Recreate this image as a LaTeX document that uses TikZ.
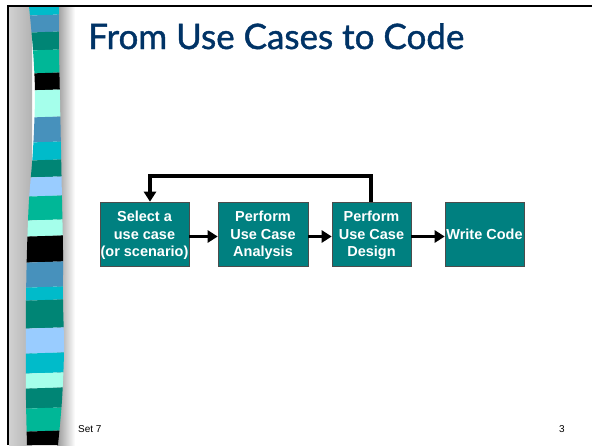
\documentclass[tikz,border=0pt]{standalone}
\usepackage{fontspec}
\setmainfont{Liberation Sans}
\newfontfamily\titlefont[FakeBold=1.2]{Lato}
\usetikzlibrary{arrows.meta,calc}

% ribbon palette
\definecolor{rcyan}{HTML}{00BBCA}
\definecolor{rsteel}{HTML}{4791BC}
\definecolor{rdark}{HTML}{008575}
\definecolor{rgreen}{HTML}{00B797}
\definecolor{raqua}{HTML}{A5FFEB}
\definecolor{rlight}{HTML}{99CCFF}
\definecolor{boxteal}{HTML}{008080}
\definecolor{titleblue}{HTML}{003366}

\tikzset{
  stepbox/.style={draw=black!70, line width=0.6pt, fill=boxteal,
    text=white, font=\fontsize{14.5}{17.7}\selectfont\bfseries,
    align=center, inner sep=0pt, minimum height=64pt, text depth=0pt},
  flow/.style={line width=3.6pt, -{Triangle[length=10pt,width=12pt]}},
  loopline/.style={line width=3.6pt, line join=miter,
    -{Triangle[length=10pt,width=12pt]}},
  footer/.style={font=\fontsize{10}{12}\selectfont, text=black, inner sep=0pt}
}

\begin{document}
\begin{tikzpicture}[x=1pt,y=-1pt]
\useasboundingbox (0,0) rectangle (592,445);
\fill[white] (0,0) rectangle (592,445);

% shading on both sides of the ribbon
\shade[left color=black!18, middle color=black!4, right color=black!30]
  (9,6) rectangle (32,445);
\shade[left color=black!40, right color=white] (57,6) rectangle (75,445);

% the ribbon: bands clipped to a wavy outline
\begin{scope}
\clip plot[smooth] coordinates {(29,6) (33,50) (35,95) (33,150) (29,200)
      (27,250) (26,300) (26,350) (26,400) (27,445)}
  -- plot[smooth] coordinates {(58,445) (62,400) (64,350) (63,300)
      (63,250) (62,200) (61,150) (60,100) (59,50) (59,6)} -- cycle;
\foreach \ya/\yb/\c in {6/15/rcyan, 15/32/rsteel, 32/50/rdark, 50/73/rgreen,
    73/90/black, 90/117/raqua, 117/142/rsteel, 142/160/rcyan,
    160/177/rdark, 177/196/rlight, 196/220/rgreen, 220/236/raqua,
    236/262/black, 262/287/rsteel, 287/300/rcyan, 300/328/rdark,
    328/353/rlight, 353/373/rcyan, 373/388/raqua, 388/408/rdark,
    408/431/rgreen, 431/446/black}
  \fill[\c] (20,\ya+0.8) -- (70,\ya-0.8) -- (70,\yb-0.8) -- (20,\yb+0.8) -- cycle;
\end{scope}

% slide frame
\draw[line width=2pt] (7,6) -- (592,6);
\draw[line width=2pt] (8,5) -- (8,445);

% title
\node[anchor=base west, inner sep=0pt, text=titleblue,
  font=\titlefont\fontsize{35}{40}\selectfont] (title) at (88,49)
  {From Use Cases to Code};

% process steps
\node[stepbox, minimum width=89pt] (select) at (144.5,234)
  {Select a\\use case\\(or scenario)};
\node[stepbox, minimum width=90pt] (analysis) at (263,234)
  {Perform\\Use Case\\Analysis};
\node[stepbox, minimum width=79pt] (design) at (371.5,234)
  {Perform\\Use Case\\Design};
\node[stepbox, minimum width=79pt] (code) at (484.5,234)
  {Write Code};

% forward arrows
\draw[flow] ($(select.east)+(0,2.5)$) -- ($(analysis.west)+(0,2.5)$);
\draw[flow] ($(analysis.east)+(0,2.5)$) -- ($(design.west)+(0,2.5)$);
\draw[flow] ($(design.east)+(0,2.5)$) -- ($(code.west)+(0,2.5)$);

% iteration back to the first step
\coordinate (loopin) at ($(select.north)+(5.5,0)$);
\draw[loopline] ($(design.north)+(-0.8,0)$) -- ++(0,-26) -| (loopin);

% footer
\node[footer, anchor=base west] (setno) at (78,432) {Set 7};
\node[footer, anchor=base east] (pageno) at (565,432) {3};
\end{tikzpicture}
\end{document}
